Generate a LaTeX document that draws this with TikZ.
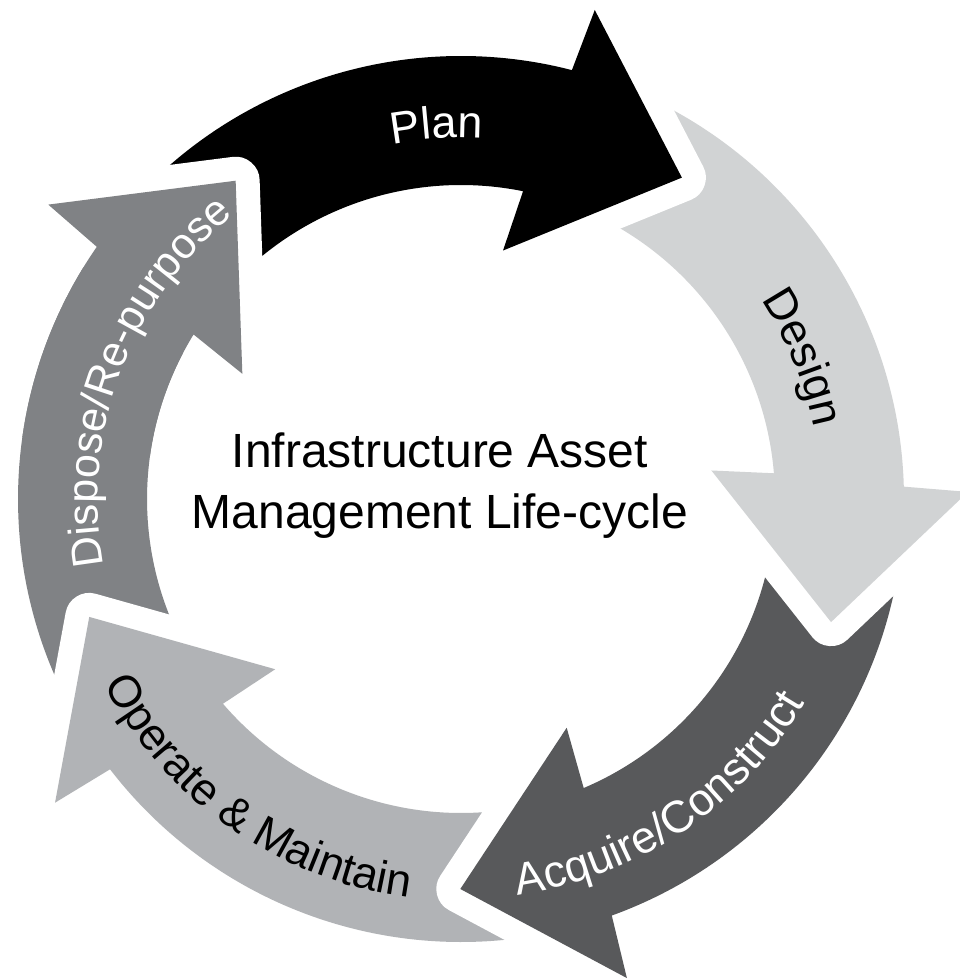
\documentclass[tikz,border=0pt]{standalone}
\usepackage{fontspec}
\setmainfont{Liberation Sans}
\usetikzlibrary{decorations.text}
\definecolor{planC}{HTML}{000000}
\definecolor{designC}{HTML}{D1D3D4}
\definecolor{acqC}{HTML}{58595B}
\definecolor{opC}{HTML}{B1B3B6}
\definecolor{dispC}{HTML}{808285}
\newcommand\lblfont{\fontsize{45pt}{54pt}\selectfont}
\newcommand\lblfontsmall{\fontsize{43pt}{52pt}\selectfont}
\newcommand\ArrowBody[1]{({#1+84.5}:443pt) arc[start angle={#1+84.5}, end angle={#1+20}, radius=443pt] -- ({#1+19.2}:507pt) -- ({#1}:390pt) -- ({#1+24.9}:252pt) -- ({#1+23.1}:314pt) arc[start angle={#1+23.1}, end angle={#1+84.5}, radius=314pt] -- cycle}
\newcommand\ArrowHead[1]{({#1+19.2}:507pt) -- ({#1}:390pt) -- ({#1+24.9}:252pt) -- cycle}
\newcommand\StageArrow[2]{\draw[headgap] \ArrowHead{#2};\fill[#1] \ArrowBody{#2};}
\newcommand\LabelCW[5]{\path[decorate, decoration={text along path, text={|#5|#4}, text align=center, text color=#3}] ({#1+70}:#2) arc[start angle={#1+70}, end angle={#1-70}, radius=#2];}
\newcommand\LabelCCW[5]{\path[decorate, decoration={text along path, text={|#5|#4}, text align=center, text color=#3}] ({#1-70}:#2) arc[start angle={#1-70}, end angle={#1+70}, radius=#2];}
\tikzset{headgap/.style={draw=white, line width=48pt, line join=round},
  titletext/.style={anchor=base, font=\fontsize{48pt}{61pt}\selectfont, inner sep=0pt}}
\begin{document}
\begin{tikzpicture}
\useasboundingbox[fill=white] (-461pt,-481pt) rectangle (498pt,499pt);
% arrows (each head overlaps the tail of the next stage)
\StageArrow{dispC}{125.3}
\StageArrow{opC}{-162.4}
\StageArrow{acqC}{-90.1}
\StageArrow{designC}{-18.4}
\StageArrow{planC}{55.5}
\begin{scope}
\clip (0pt,0pt) -- (110:700pt) -- (140:900pt) -- (172:700pt) -- cycle;
\StageArrow{dispC}{125.3}
\end{scope}
% labels
\LabelCW{93.7}{361pt}{white}{Plan}{\lblfont}
\LabelCW{22.5}{360pt}{black}{Design}{\lblfont}
\LabelCCW{-56.2}{400pt}{white}{Acquire/Construct}{\lblfont}
\LabelCCW{-125}{402pt}{black}{Operate {\&} Maintain}{\lblfont}
\LabelCW{159.6}{363pt}{white}{Dispose/Re-purpose}{\lblfontsmall}
\node[titletext] (title1) at (-21pt,32pt) {Infrastructure Asset};
\node[titletext] (title2) at (-21pt,-29pt) {Management Life-cycle};
\end{tikzpicture}
\end{document}
